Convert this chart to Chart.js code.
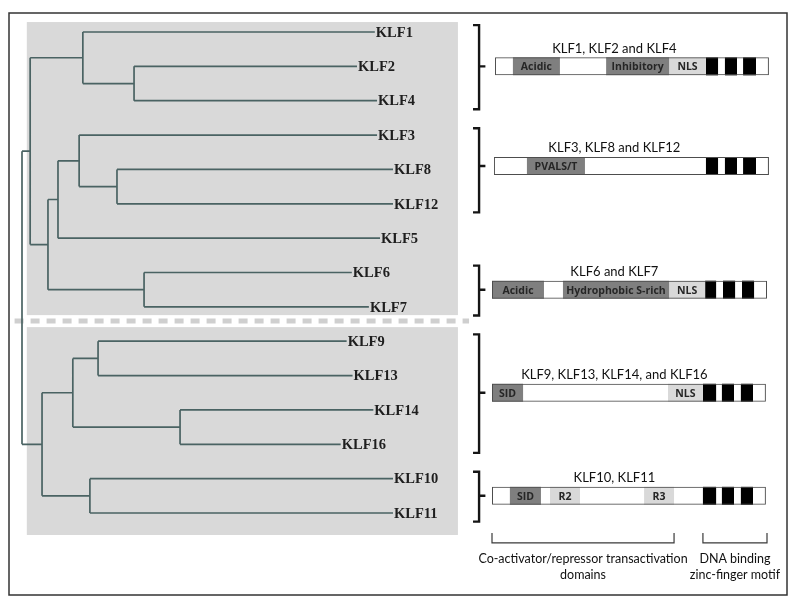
<!DOCTYPE html>
<html>
<head>
<meta charset="utf-8">
<script src="https://cdn.jsdelivr.net/npm/chart.js@4.4.0/dist/chart.umd.min.js"></script>
<style>
    html, body { margin: 0; padding: 0; background: #fff; }
    #wrap { position: relative; width: 800px; height: 604px; }
</style>
</head>
<body>
<div id="wrap"><canvas id="klf" width="800" height="604"></canvas></div>
<script>
// Tree leaves, top to bottom (one row each)
const leafNames = ['KLF1', 'KLF2', 'KLF4', 'KLF3', 'KLF8', 'KLF12', 'KLF5', 'KLF6', 'KLF7',
                   'KLF9', 'KLF13', 'KLF14', 'KLF16', 'KLF10', 'KLF11'];
// distance from the root to each tip (longest = 1)
const leafDepth = [0.951, 0.903, 0.957, 0.957, 1.0, 1.0, 0.965, 0.889, 0.935,
                   0.875, 0.891, 0.947, 0.859, 1.0, 1.0];

// Internal nodes of the tree
const nodeNames = ['root', 'upper', 'A', 'A2', 'B', 'B1', 'B1a', 'B1b', 'B2', 'lower', 'C', 'C1', 'C2', 'D'];
const nodeDepth = [0, 0.022, 0.164, 0.302, 0.070, 0.097, 0.154, 0.256, 0.329, 0.054, 0.137, 0.205, 0.426, 0.183];
const nodeKids = [
    ['upper', 'lower'], ['A', 'B'], ['KLF1', 'A2'], ['KLF2', 'KLF4'], ['B1', 'B2'],
    ['B1a', 'KLF5'], ['KLF3', 'B1b'], ['KLF8', 'KLF12'], ['KLF6', 'KLF7'],
    ['C', 'D'], ['C1', 'C2'], ['KLF9', 'KLF13'], ['KLF14', 'KLF16'], ['KLF10', 'KLF11']
];

// Domain diagrams, one per group of the tree
const groupTitles = ['KLF1, KLF2 and KLF4', 'KLF3, KLF8 and KLF12', 'KLF6 and KLF7',
                     'KLF9, KLF13, KLF14, and KLF16', 'KLF10, KLF11'];
const groupRows = [[0, 2], [3, 5], [7, 8], [9, 12], [13, 14]];
const groupAt = [1, 3.9, 7.5, 10.5, 13.5];

// protein positions (relative, 0-100)
const proteinSpan = [[1.1, 100.7], [0.7, 100.7], [0, 100], [0, 99.6], [0, 99.6]];
const darkA = [[7.6, 24.7], [12.7, 33.8], [0, 18.9], [0, 11.3], [6.5, 17.8]];
const darkALabels = ['Acidic', 'PVALS/T', 'Acidic', 'SID', 'SID'];
const darkB = [[41.5, 64.4], null, [25.8, 64.4], null, null];
const darkBLabels = ['Inhibitory', null, 'Hydrophobic S-rich', null, null];
const lightA = [[64.4, 77.8], null, [64.4, 77.5], [64.0, 76.7], [21.1, 32.0]];
const lightALabels = ['NLS', null, 'NLS', 'NLS', 'R2'];
const lightB = [null, null, null, null, [55.3, 66.2]];
const lightBLabels = [null, null, null, null, 'R3'];
const zinc1 = [[77.8, 82.2], [77.8, 82.2], [77.5, 81.5], [76.7, 81.5], [76.7, 81.5]];
const zinc2 = [[84.7, 89.1], [84.7, 89.1], [84.0, 88.4], [83.6, 88.0], [83.6, 88.0]];
const zinc3 = [[91.3, 96.0], [91.3, 96.0], [90.9, 95.3], [90.5, 94.9], [90.5, 94.9]];

// bottom brackets
const regionSpans = [[0, 66.2], [76.7, 100]];
const regionLabels = [['Co-activator/repressor transactivation', 'domains'],
                      ['DNA binding', 'zinc-finger motif']];

// Colours
const COLORS = {
    panel: '#d9d9d9',
    dash: '#cfcfcf',
    tree: '#4a6363',
    dark: '#7f7f7f',
    light: '#d9d9d9',
    zinc: '#000000',
    outline: '#4d4d4d',
    ink: '#1e1e1e'
};

// min/max so that value v0 lands on pixel p0 and v1 on p1
function fit(v0, p0, v1, p1, size) {
    const k = (p1 - p0) / (v1 - v0);
    const min = v0 - p0 / k;
    return { min, max: min + size / k };
}

const gap = () => ({ x: null, y: null });

// Tree geometry
const rowOf = {};
const depthOf = {};
leafNames.forEach((n, i) => { rowOf[n] = i; depthOf[n] = leafDepth[i]; });
nodeNames.forEach((n, i) => { depthOf[n] = nodeDepth[i]; });

function rowFor(name) {
    if (name in rowOf) return rowOf[name];
    const kids = nodeKids[nodeNames.indexOf(name)].map(rowFor);
    return (kids[0] + kids[kids.length - 1]) / 2;
}

const treePts = [];
nodeNames.forEach((n, i) => {
    const kids = nodeKids[i].map(k => ({ d: depthOf[k], r: rowFor(k) }));
    treePts.push({ x: nodeDepth[i], y: kids[0].r }, { x: nodeDepth[i], y: kids[kids.length - 1].r }, gap());
    kids.forEach(k => treePts.push({ x: nodeDepth[i], y: k.r }, { x: k.d, y: k.r }, gap()));
});

// Curly brackets (domain units, left of the bars)
const BR = { hook: -6.9, spine: -4.7, tick: -2.4, pad0: 0.2, pad1: 0.25 };
const bracketPts = [];
groupRows.forEach((g, i) => {
    const top = g[0] - BR.pad0, bot = g[1] + BR.pad1;
    bracketPts.push({ x: BR.hook, y: top }, { x: BR.spine, y: top }, { x: BR.spine, y: bot },
                    { x: BR.hook, y: bot }, gap(),
                    { x: BR.spine, y: groupAt[i] }, { x: BR.tick, y: groupAt[i] }, gap());
});

// Bottom brackets
const REG = { top: 14.58, bot: 14.87 };
const regionPts = [];
regionSpans.forEach(s => {
    regionPts.push({ x: s[0], y: REG.top }, { x: s[0], y: REG.bot }, { x: s[1], y: REG.bot },
                   { x: s[1], y: REG.top }, gap());
});

function barSet(label, spans, color, order, extra) {
    return Object.assign({
        type: 'bar',
        label,
        indexAxis: 'y',
        xAxisID: 'xDom',
        yAxisID: 'y',
        grouped: false,
        maxBarThickness: 18,
        borderSkipped: false,
        borderWidth: 0,
        backgroundColor: color,
        order,
        data: spans.map((s, i) => s ? { x: s, y: groupAt[i] } : null).filter(Boolean)
    }, extra || {});
}

function lineSet(label, pts, xAxisID, color, width, order) {
    return {
        type: 'line',
        label,
        data: pts,
        xAxisID,
        yAxisID: 'y',
        borderColor: color,
        borderWidth: width,
        pointRadius: 0,
        fill: false,
        tension: 0,
        spanGaps: false,
        borderJoinStyle: 'miter',
        borderCapStyle: 'butt',
        order
    };
}

const segmentLabels = [
    ['darkA', darkALabels], ['darkB', darkBLabels], ['lightA', lightALabels], ['lightB', lightBLabels]
];

const decor = {
    id: 'decor',
    beforeDatasetsDraw(chart) {
        const ctx = chart.ctx;
        const { xTree, y } = chart.scales;
        ctx.save();
        ctx.fillStyle = '#ffffff';
        ctx.fillRect(0, 0, chart.width, chart.height);
        // grey panels behind the two clades
        ctx.fillStyle = COLORS.panel;
        const x0 = xTree.getPixelForValue(0.013), x1 = xTree.getPixelForValue(1.175);
        const panels = [[-0.29, 8.24], [8.59, 14.64]];
        panels.forEach(p => {
            const t = y.getPixelForValue(p[0]), b = y.getPixelForValue(p[1]);
            ctx.fillRect(x0, t, x1 - x0, b - t);
        });
        // dashed separator
        ctx.strokeStyle = COLORS.dash;
        ctx.lineWidth = 5;
        ctx.setLineDash([9, 7]);
        const sy = y.getPixelForValue(8.41);
        ctx.beginPath();
        ctx.moveTo(xTree.getPixelForValue(-0.02), sy);
        ctx.lineTo(xTree.getPixelForValue(1.205), sy);
        ctx.stroke();
        ctx.restore();
    },
    afterDatasetsDraw(chart) {
        const ctx = chart.ctx;
        const { xTree, xDom, y } = chart.scales;
        ctx.save();

        // tip labels
        ctx.fillStyle = COLORS.ink;
        ctx.font = 'bold 14.5px "Liberation Serif"';
        ctx.textBaseline = 'middle';
        ctx.textAlign = 'left';
        leafNames.forEach((n, i) => {
            ctx.fillText(n, xTree.getPixelForValue(leafDepth[i]) + 1, y.getPixelForValue(i) + 1);
        });

        // domain labels inside the bars
        ctx.font = 'bold 10.5px "Open Sans"';
        ctx.fillStyle = '#262626';
        ctx.textAlign = 'center';
        segmentLabels.forEach(([key, labels]) => {
            const idx = chart.data.datasets.findIndex(d => d.label === key);
            const meta = chart.getDatasetMeta(idx);
            let k = 0;
            labels.forEach(txt => {
                if (txt === null) return;
                const el = meta.data[k++];
                if (txt) ctx.fillText(txt, (el.x + el.base) / 2, el.y + 1);
            });
        });

        // group titles
        ctx.font = '13px Lato';
        ctx.fillStyle = '#111';
        groupTitles.forEach((t, i) => {
            ctx.fillText(t, xDom.getPixelForValue(44.5), y.getPixelForValue(groupAt[i]) - 18);
        });

        // region captions
        ctx.font = '12.5px Lato';
        regionSpans.forEach((s, i) => {
            const cx = xDom.getPixelForValue((s[0] + s[1]) / 2);
            const by = y.getPixelForValue(REG.bot);
            regionLabels[i].forEach((line, j) => ctx.fillText(line, cx, by + 16 + j * 16));
        });

        // outer frame
        ctx.strokeStyle = '#333';
        ctx.lineWidth = 1.5;
        ctx.strokeRect(9, 13, 778, 582);
        ctx.restore();
    }
};

const xTreeRange = fit(0, 22, 1, 393, 800);
const xDomRange = fit(0, 492, 100, 767, 800);
const yRange = fit(0, 32, 14, 513, 604);

const hidden = { type: 'linear', display: false, offset: false, bounds: 'data', grace: 0 };

const chart = new Chart(document.getElementById('klf'), {
    type: 'scatter',
    data: {
        datasets: [
            lineSet('tree', treePts, 'xTree', COLORS.tree, 1.7, 1),
            lineSet('brackets', bracketPts, 'xDom', '#151515', 2.4, 1),
            lineSet('regions', regionPts, 'xDom', '#3a3a3a', 1.2, 1),
            barSet('outline', proteinSpan, 'rgba(0,0,0,0)', 2, { borderWidth: 1, borderColor: COLORS.outline }),
            barSet('darkA', darkA, COLORS.dark, 4),
            barSet('darkB', darkB, COLORS.dark, 4),
            barSet('lightA', lightA, COLORS.light, 4),
            barSet('lightB', lightB, COLORS.light, 4),
            barSet('zinc1', zinc1, COLORS.zinc, 4),
            barSet('zinc2', zinc2, COLORS.zinc, 4),
            barSet('zinc3', zinc3, COLORS.zinc, 4),
            barSet('body', proteinSpan, '#ffffff', 6)
        ]
    },
    options: {
        responsive: false,
        animation: false,
        layout: { padding: 0 },
        plugins: {
            legend: { display: false },
            tooltip: { enabled: false }
        },
        scales: {
            xTree: { ...hidden, axis: 'x', min: xTreeRange.min, max: xTreeRange.max },
            xDom: { ...hidden, axis: 'x', min: xDomRange.min, max: xDomRange.max },
            y: { ...hidden, axis: 'y', reverse: true, min: yRange.min, max: yRange.max }
        }
    },
    plugins: [decor]
});
</script>
</body>
</html>
